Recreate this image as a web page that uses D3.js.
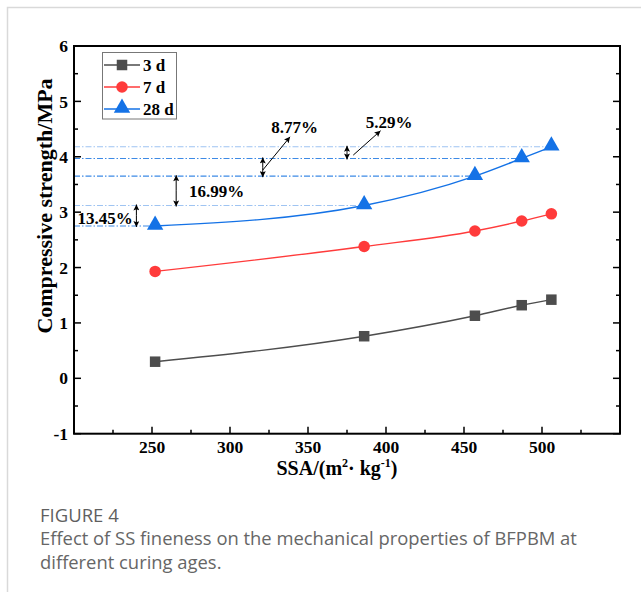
<!DOCTYPE html>
<html>
<head>
<meta charset="utf-8">
<script src="https://cdn.jsdelivr.net/npm/d3@7/dist/d3.min.js"></script>
<style>
  body { margin: 0; background: #fff; }
  svg text { font-family: "Liberation Serif", "Times New Roman", serif; }
  svg text.cap { font-family: "Open Sans", "Noto Sans", sans-serif; }
</style>
</head>
<body>
<svg width="641" height="592"></svg>
<script>
// data
var ssa = [252, 386, 457, 487, 506];
var d3days = [0.30, 0.76, 1.13, 1.32, 1.42];
var d7days = [1.93, 2.38, 2.66, 2.84, 2.97];
var d28days = [2.75, 3.12, 3.65, 3.97, 4.18];
var seriesNames = ["3 d", "7 d", "28 d"];
var xTicks = [250, 300, 350, 400, 450, 500];
var yTicks = [-1, 0, 1, 2, 3, 4, 5, 6];
var pctLabels = ["13.45%", "16.99%", "8.77%", "5.29%"];
var arrowX = [240, 265.5, 321, 375];

var svg = d3.select("svg"),
    mLeft = 74, mRight = 620, mTop = 46, mBottom = 433.7;

// card border
svg.append("path").attr("d", "M7.5,592V7.5H641").attr("fill", "none").attr("stroke", "#d9d9d9").attr("stroke-width", 1.5);

var x = d3.scaleLinear().domain([200, 550]).range([mLeft, mRight]);
var y = d3.scaleLinear().domain([-1, 6]).range([mBottom, mTop]);

var colors = ["#4d4d4d", "#ff3b3b", "#1472e6"];
var series = [d3days, d7days, d28days].map((v, i) => ({
    name: seriesNames[i], color: colors[i],
    pts: v.map((d, j) => [ssa[j], d])
}));

var defs = svg.append("defs");
defs.append("marker").attr("id", "ah").attr("viewBox", "0 0 10 10")
    .attr("refX", 10).attr("refY", 5).attr("markerWidth", 7).attr("markerHeight", 6)
    .attr("markerUnits", "userSpaceOnUse").attr("orient", "auto-start-reverse")
    .append("path").attr("d", "M0,0L10,5L0,10L2,5Z").attr("fill", "#000");

// dash-dot guide lines to the 28 d points
d28days.forEach((v, i) => {
    svg.append("line")
        .attr("x1", mLeft).attr("x2", x(ssa[i]))
        .attr("y1", y(v)).attr("y2", y(v))
        .attr("stroke", (i == 1 || i == 4) ? "#9fc4f2" : "#3d8ae6")
        .attr("stroke-width", 1.1)
        .attr("stroke-dasharray", "6,2,1.5,2");
});

// curves
var line = d3.line().x(d => x(d[0])).y(d => y(d[1])).curve(d3.curveMonotoneX);
series.forEach(s => {
    svg.append("path").attr("d", line(s.pts)).attr("fill", "none")
        .attr("stroke", s.color).attr("stroke-width", 1.4);
});

function marker(sel, i, cx, cy, sz) {
    if (i == 0) sel.append("rect").attr("x", cx - sz / 2).attr("y", cy - sz / 2).attr("width", sz).attr("height", sz).attr("fill", colors[0]);
    else if (i == 1) sel.append("circle").attr("cx", cx).attr("cy", cy).attr("r", sz * 0.55).attr("fill", colors[1]);
    else sel.append("path").attr("d", d3.symbol(d3.symbolTriangle, sz * sz * 1.05)()).attr("transform", "translate(" + cx + "," + (cy - 1) + ")").attr("fill", colors[2]);
}
series.forEach((s, i) => {
    s.pts.forEach(p => marker(svg, i, x(p[0]), y(p[1]), 10.5));
});

// percentage annotations
var ann = svg.append("g");
var pairs = [[0, 1], [1, 2], [2, 3], [3, 4]];
pairs.forEach((p, k) => {
    var ax = x(arrowX[k]);
    var ya = y(d28days[p[0]]), yb = y(d28days[p[1]]);
    var mid = (ya + yb) / 2;
    ann.append("line").attr("x1", ax).attr("x2", ax).attr("y1", mid).attr("y2", ya + 1).attr("stroke", "#000").attr("stroke-width", 1).attr("marker-end", "url(#ah)");
    ann.append("line").attr("x1", ax).attr("x2", ax).attr("y1", mid).attr("y2", yb - 1).attr("stroke", "#000").attr("stroke-width", 1).attr("marker-end", "url(#ah)");
});
// leaders
[[321, 3.76, 338.5, 4.36], [379, 4.03, 396.5, 4.47]].forEach(l => {
    ann.append("line").attr("x1", x(l[0])).attr("y1", y(l[1])).attr("x2", x(l[2])).attr("y2", y(l[3]))
        .attr("stroke", "#000").attr("stroke-width", 1).attr("marker-end", "url(#ah)");
});
var textPos = [[220, 2.89], [291.5, 3.38], [341.5, 4.54], [402, 4.63]];
textPos.forEach((t, k) => {
    ann.append("text").attr("x", x(t[0])).attr("y", y(t[1])).attr("dy", "0.35em")
        .attr("text-anchor", "middle").attr("font-size", 17).attr("font-weight", "bold")
        .text(pctLabels[k]);
});

// frame and ticks
var frame = svg.append("g");
frame.append("rect").attr("x", mLeft).attr("y", mTop).attr("width", mRight - mLeft).attr("height", mBottom - mTop)
    .attr("fill", "none").attr("stroke", "#000").attr("stroke-width", 2);

var xMinor = d3.range(225, 550, 50);
var yMinor = d3.range(-0.5, 6, 1);
xTicks.forEach(v => frame.append("line").attr("x1", x(v)).attr("x2", x(v)).attr("y1", mBottom).attr("y2", mBottom - 7).attr("stroke", "#000").attr("stroke-width", 1.5));
xMinor.forEach(v => frame.append("line").attr("x1", x(v)).attr("x2", x(v)).attr("y1", mBottom).attr("y2", mBottom - 4).attr("stroke", "#000").attr("stroke-width", 1.5));
yTicks.forEach(v => {
    frame.append("line").attr("x1", mLeft).attr("x2", mLeft + 7).attr("y1", y(v)).attr("y2", y(v)).attr("stroke", "#000").attr("stroke-width", 1.5);
    frame.append("line").attr("x1", mRight).attr("x2", mRight - 7).attr("y1", y(v)).attr("y2", y(v)).attr("stroke", "#000").attr("stroke-width", 1.5);
});
yMinor.forEach(v => {
    frame.append("line").attr("x1", mLeft).attr("x2", mLeft + 4).attr("y1", y(v)).attr("y2", y(v)).attr("stroke", "#000").attr("stroke-width", 1.5);
    frame.append("line").attr("x1", mRight).attr("x2", mRight - 4).attr("y1", y(v)).attr("y2", y(v)).attr("stroke", "#000").attr("stroke-width", 1.5);
});

frame.selectAll(".xl").data(xTicks).enter().append("text")
    .attr("x", d => x(d)).attr("y", mBottom + 19).attr("text-anchor", "middle")
    .attr("font-size", 17.5).attr("font-weight", "bold").text(d => d);
frame.selectAll(".yl").data(yTicks).enter().append("text")
    .attr("x", mLeft - 6).attr("y", d => y(d)).attr("dy", "0.35em").attr("text-anchor", "end")
    .attr("font-size", 17.5).attr("font-weight", "bold").text(d => d);

// axis titles
var xt = svg.append("text").attr("x", 337).attr("y", 475).attr("text-anchor", "middle")
    .attr("font-size", 20).attr("font-weight", "bold");
xt.append("tspan").text("SSA/(m");
xt.append("tspan").attr("font-size", 12).attr("dy", -8).text("2");
xt.append("tspan").attr("dy", 8).text("· kg");
xt.append("tspan").attr("font-size", 12).attr("dy", -8).text("-1");
xt.append("tspan").attr("dy", 8).text(")");

svg.append("text").attr("transform", "translate(52," + 206 + ") rotate(-90)")
    .attr("text-anchor", "middle").attr("font-size", 22).attr("font-weight", "bold")
    .text("Compressive strength/MPa");

// legend
var lg = svg.append("g");
lg.append("rect").attr("x", 102.5).attr("y", 52.5).attr("width", 74).attr("height", 66.5)
    .attr("fill", "#fff").attr("stroke", "#777").attr("stroke-width", 1);
series.forEach((s, i) => {
    var ly = 65 + i * 22;
    lg.append("line").attr("x1", 104).attr("x2", 140).attr("y1", ly).attr("y2", ly).attr("stroke", s.color).attr("stroke-width", 1.4);
    marker(lg, i, 122, ly, 10.5);
    lg.append("text").attr("x", 143).attr("y", ly).attr("dy", "0.35em")
        .attr("font-size", 17).attr("font-weight", "bold").text(s.name);
});

// caption
svg.append("text").attr("class", "cap").attr("x", 40).attr("y", 522).attr("font-size", 18.5)
    .attr("fill", "#5f5f5f").text("FIGURE 4");
svg.append("text").attr("class", "cap").attr("x", 40).attr("y", 545).attr("font-size", 18.4)
    .attr("fill", "#666").text("Effect of SS fineness on the mechanical properties of BFPBM at");
svg.append("text").attr("class", "cap").attr("x", 40).attr("y", 569).attr("font-size", 18.4)
    .attr("fill", "#666").text("different curing ages.");
</script>
</body>
</html>
